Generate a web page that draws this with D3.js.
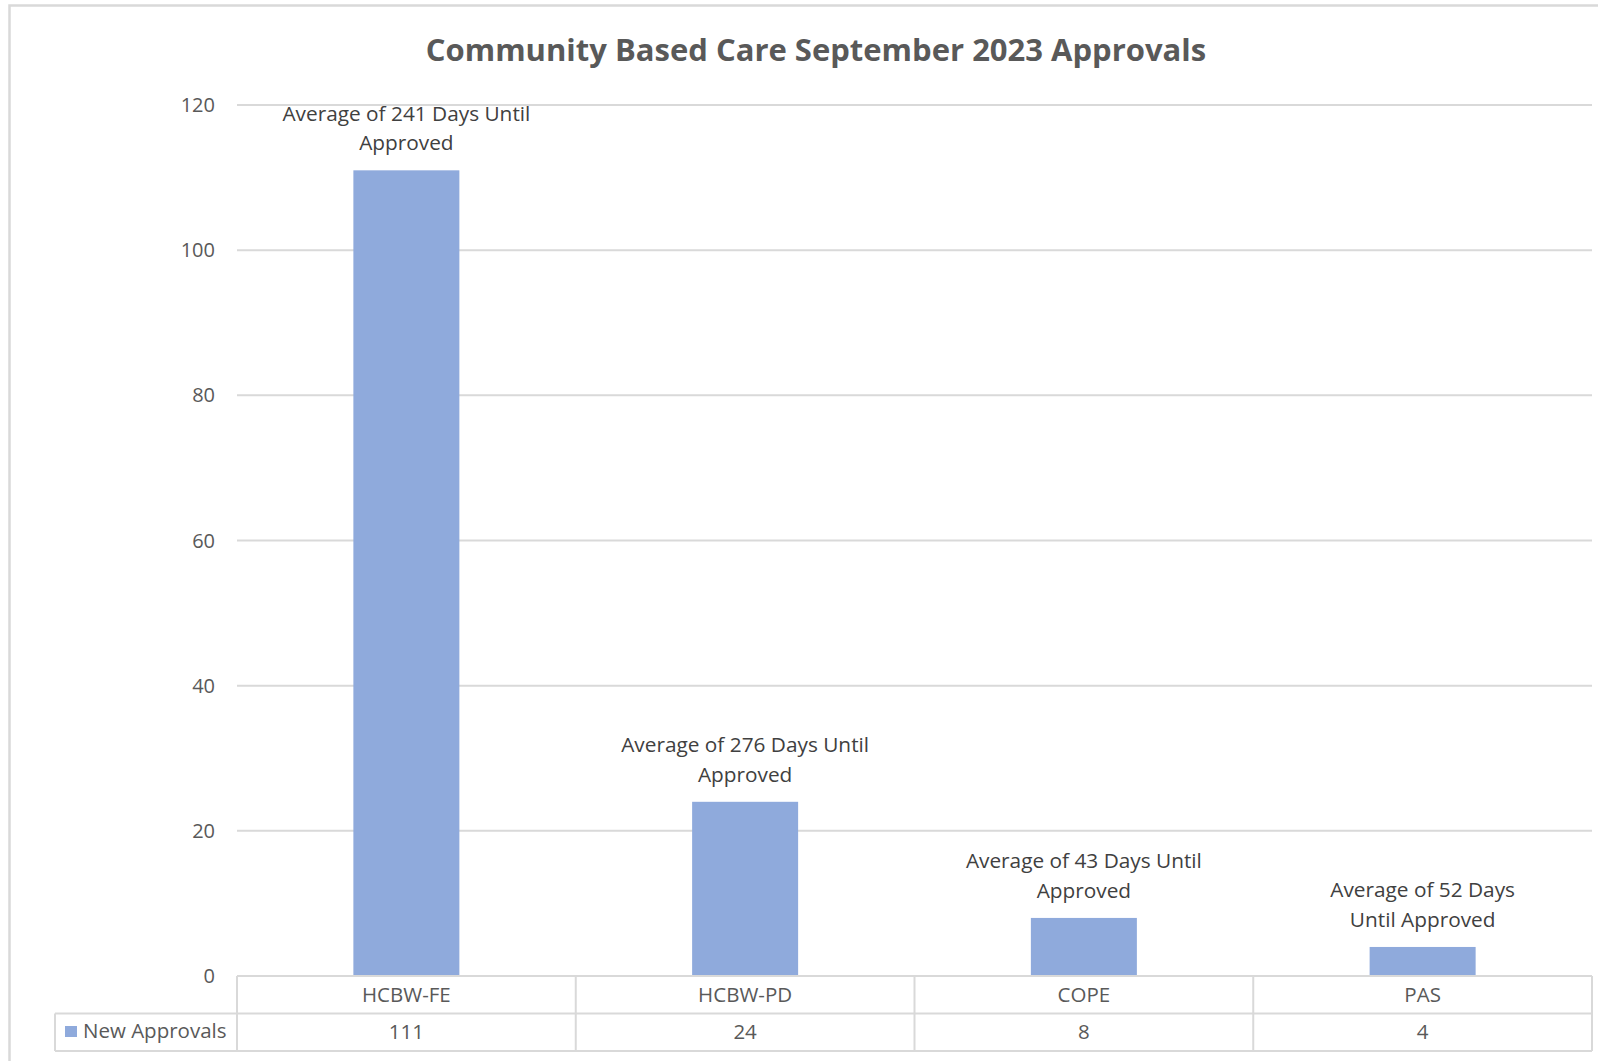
<!DOCTYPE html>
<html>
<head>
<meta charset="utf-8">
<script src="https://cdn.jsdelivr.net/npm/d3@7"></script>
<style>
  html, body { margin: 0; padding: 0; background: #fff; overflow: hidden; }
  svg { display: block; }
  svg text { font-family: "Open Sans", "Noto Sans", sans-serif; }
</style>
</head>
<body>
<div id="chart"></div>
<script>
// chart data
const categories = ['HCBW-FE', 'HCBW-PD', 'COPE', 'PAS'];
const approvals = [111, 24, 8, 4];
const labelLines = [
    ['Average of 241 Days Until', 'Approved'],
    ['Average of 276 Days Until', 'Approved'],
    ['Average of 43 Days Until', 'Approved'],
    ['Average of 52 Days', 'Until Approved']
];
const yTicks = [0, 20, 40, 60, 80, 100, 120];
const seriesName = 'New Approvals';

const width = 1598, height = 1061;
const barColor = '#8FAADC';
const gridColor = '#d9d9d9';
const textColor = '#595959';

const svg = d3.select('#chart').append('svg')
    .attr('width', width)
    .attr('height', height);

// outer chart frame (cut off on right/bottom like the screenshot)
svg.append('path')
    .attr('d', 'M9.5,1061 V5.5 H1598')
    .attr('fill', 'none')
    .attr('stroke', gridColor)
    .attr('stroke-width', 2.5);

svg.append('text')
    .attr('x', 816)
    .attr('y', 61)
    .attr('text-anchor', 'middle')
    .attr('font-size', 31)
    .attr('font-weight', 'bold')
    .attr('fill', textColor)
    .text('Community Based Care September 2023 Approvals');

const plotLeft = 237, plotRight = 1592;
const x = d3.scaleBand().domain(categories).range([plotLeft, plotRight]).paddingInner(0).paddingOuter(0);
const y = d3.scaleLinear().domain([0, 120]).range([976, 105]);

// gridlines
svg.append('g')
    .selectAll('line')
    .data(yTicks.filter(t => t > 0))
    .enter().append('line')
    .attr('x1', plotLeft)
    .attr('x2', plotRight)
    .attr('y1', d => y(d))
    .attr('y2', d => y(d))
    .attr('stroke', gridColor)
    .attr('stroke-width', 2);

// y tick labels
svg.append('g')
    .selectAll('text')
    .data(yTicks)
    .enter().append('text')
    .attr('x', 215)
    .attr('y', d => y(d) + 7)
    .attr('text-anchor', 'end')
    .attr('font-size', 20)
    .attr('fill', textColor)
    .text(d => d);

// bars
const barW = 106;
svg.append('g')
    .selectAll('rect')
    .data(approvals)
    .enter().append('rect')
    .attr('x', (d, i) => x(categories[i]) + x.bandwidth() / 2 - barW / 2)
    .attr('y', d => y(d))
    .attr('width', barW)
    .attr('height', d => y(0) - y(d))
    .attr('fill', barColor);

// data labels above bars
const lbl = svg.append('g')
    .selectAll('text')
    .data(approvals)
    .enter().append('text')
    .attr('text-anchor', 'middle')
    .attr('font-size', 20.8)
    .attr('fill', '#404040');
lbl.each(function(d, i) {
    const cx = x(categories[i]) + x.bandwidth() / 2;
    const base = y(d) - 20;
    labelLines[i].forEach((line, j) => {
        d3.select(this).append('tspan')
            .attr('x', cx)
            .attr('y', base - (labelLines[i].length - 1 - j) * 29.5)
            .text(line);
    });
});

// data table
const row1 = 976, row2 = 1013.5, row3 = 1051, legendLeft = 55;
const tbl = svg.append('g')
    .attr('stroke', gridColor)
    .attr('stroke-width', 2)
    .attr('fill', 'none');
tbl.append('line').attr('x1', plotLeft).attr('x2', plotRight).attr('y1', row1).attr('y2', row1);
tbl.append('line').attr('x1', legendLeft).attr('x2', plotRight).attr('y1', row2).attr('y2', row2);
tbl.append('line').attr('x1', legendLeft).attr('x2', plotRight).attr('y1', row3).attr('y2', row3);
tbl.append('line').attr('x1', legendLeft).attr('x2', legendLeft).attr('y1', row2).attr('y2', row3);
const edges = categories.map(c => x(c)).concat([plotRight]);
tbl.selectAll('.vline')
    .data(edges)
    .enter().append('line')
    .attr('x1', d => d).attr('x2', d => d)
    .attr('y1', row1).attr('y2', row3);

svg.append('g')
    .selectAll('text')
    .data(categories)
    .enter().append('text')
    .attr('x', d => x(d) + x.bandwidth() / 2)
    .attr('y', 1002)
    .attr('text-anchor', 'middle')
    .attr('font-size', 20.5)
    .attr('fill', textColor)
    .text(d => d);

svg.append('g')
    .selectAll('text')
    .data(approvals)
    .enter().append('text')
    .attr('x', (d, i) => x(categories[i]) + x.bandwidth() / 2)
    .attr('y', 1039)
    .attr('text-anchor', 'middle')
    .attr('font-size', 20.5)
    .attr('fill', textColor)
    .text(d => d);

svg.append('rect')
    .attr('x', 65).attr('y', 1026)
    .attr('width', 12).attr('height', 11)
    .attr('fill', barColor);
svg.append('text')
    .attr('x', 83)
    .attr('y', 1038)
    .attr('font-size', 20.5)
    .attr('fill', textColor)
    .text(seriesName);
</script>
</body>
</html>
